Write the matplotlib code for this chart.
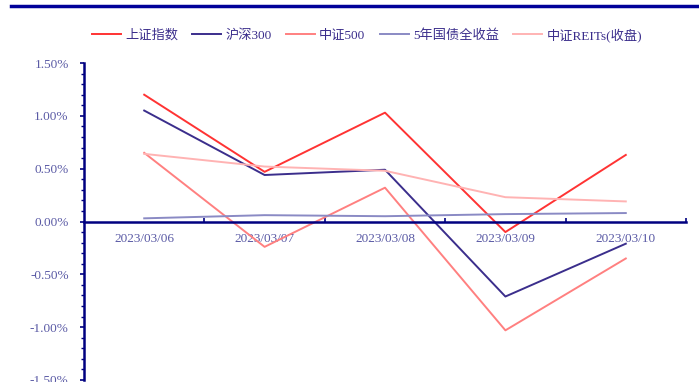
import matplotlib.pyplot as plt
from matplotlib.lines import Line2D
import numpy as np

plt.rcParams['font.family'] = ['Liberation Serif', 'Noto Sans CJK SC', 'DejaVu Sans']

dates = ['2023/03/06', '2023/03/07', '2023/03/08', '2023/03/09', '2023/03/10']
names = ['上证指数', '沪深300', '中证500', '5年国债全收益', '中证REITs(收盘)']
sh = [1.20, 0.47, 1.03, -0.10, 0.63]
hs300 = [1.05, 0.44, 0.49, -0.71, -0.21]
zz500 = [0.65, -0.24, 0.32, -1.03, -0.35]
bond5 = [0.03, 0.06, 0.05, 0.07, 0.08]
reits = [0.64, 0.52, 0.48, 0.23, 0.19]
series = [sh, hs300, zz500, bond5, reits]
colors = ['#FF3333', '#3B2E8C', '#FF8080', '#8A8AC4', '#FFB3B3']

navy = '#000080'
lab = '#5A5AA5'

fig = plt.figure(figsize=(6.99, 3.82), dpi=100)
ax = fig.add_axes([84/699, 1-380/382, 602/699, (380-63)/382])

x = np.arange(len(dates))
for s, c, n in zip(series, colors, names):
    ax.plot(x, s, color=c, lw=1.4, label=n)

ax.set_xlim(-0.5, 4.5)
ax.set_ylim(-1.5, 1.5)
ax.spines['top'].set_visible(False)
ax.spines['right'].set_visible(False)
ax.spines['bottom'].set_position(('data', 0))
for sp in ['left', 'bottom']:
    ax.spines[sp].set_color(navy)
    ax.spines[sp].set_linewidth(1.8)

yt = np.arange(-1.5, 1.51, 0.5)
ax.set_yticks(yt)
ax.set_yticklabels(['%.2f%%' % v for v in yt])
ax.set_yticks(np.arange(-1.5, 1.51, 0.1), minor=True)
ax.tick_params(axis='y', which='major', direction='out', length=3, width=1.2,
               color=navy, labelcolor=lab, labelsize=9.5, pad=8)
ax.tick_params(axis='y', which='minor', direction='out', length=2, width=1.0, color=navy)

ax.set_xticks(np.arange(0.5, 5, 1.0))
ax.set_xticklabels([])
ax.set_xticks(x, minor=True)
ax.set_xticklabels(dates, minor=True)
ax.tick_params(axis='x', which='major', direction='in', length=3, width=1.2, color=navy)
ax.tick_params(axis='x', which='minor', length=0, labelcolor=lab, labelsize=9.5, pad=8)

fig.add_artist(Line2D([11/699, 1.0], [1-6/382, 1-6/382], color='#000099', lw=2.5))

handles = [Line2D([], [], color=c, lw=1.4) for c in colors]
leg = fig.legend(handles, names, loc='center', bbox_to_anchor=(0.525, 1-35/382), ncol=5,
                 frameon=False, fontsize=9.5, handlelength=2.2, handletextpad=0.3,
                 columnspacing=1.1)
for t in leg.get_texts():
    t.set_color('#3B2E8C')

fig.savefig('out.png', dpi=100)
